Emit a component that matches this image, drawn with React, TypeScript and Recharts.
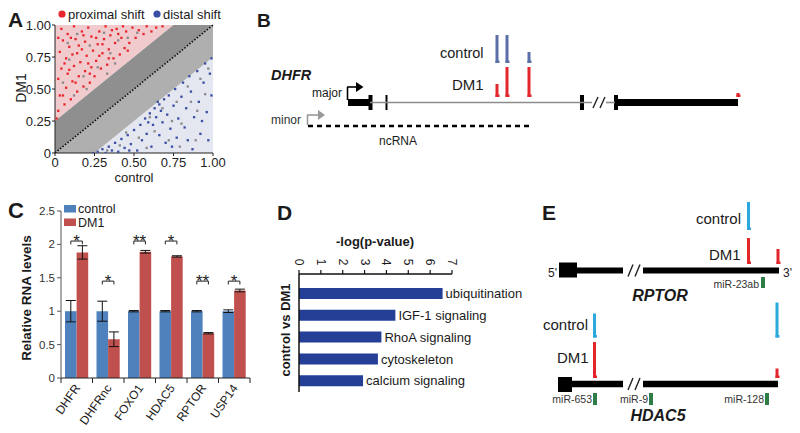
import React from 'react';
import {
  ComposedChart, Area, Scatter, Bar, XAxis, YAxis, ReferenceLine, ReferenceArea,
  ErrorBar, LabelList, Customized,
} from 'recharts';

const FONT = "'Liberation Sans', Arial, Helvetica, sans-serif";

/* ---------------- Panel A data ---------------- */
const zoneX = [0, 0.25, 0.75, 1];
const zoneDiag = [0, 0.25, 0.75, 1];
const zoneUpper = [0.25, 0.5, 1, 1];
const zoneLower = [0, 0, 0.5, 0.75];
const aTicks = [0, 0.25, 0.5, 0.75, 1];
const proximalShift: number[][] = [
  [0.01,0.27],[0.02,0.33],[0.03,0.45],[0.02,0.58],[0.04,0.66],[0.03,0.79],[0.05,0.88],[0.04,0.97],[0.06,0.38],[0.07,0.51],
  [0.08,0.62],[0.07,0.74],[0.09,0.83],[0.08,0.93],[0.1,0.42],[0.11,0.56],[0.12,0.68],[0.11,0.77],[0.13,0.89],[0.12,0.99],
  [0.14,0.48],[0.15,0.6],[0.16,0.71],[0.15,0.84],[0.17,0.95],[0.18,0.52],[0.19,0.64],[0.2,0.76],[0.19,0.87],[0.21,0.98],
  [0.22,0.55],[0.23,0.67],[0.24,0.8],[0.23,0.91],[0.25,0.6],[0.26,0.72],[0.27,0.85],[0.28,0.95],[0.29,0.66],[0.3,0.78],
  [0.31,0.89],[0.32,0.99],[0.33,0.69],[0.34,0.81],[0.35,0.92],[0.37,0.74],[0.38,0.86],[0.39,0.97],[0.41,0.77],[0.42,0.9],
  [0.44,0.82],[0.45,0.95],[0.47,0.86],[0.49,0.98],[0.51,0.9],[0.53,0.96],[0.56,0.93],[0.58,0.99],[0.61,0.95],[0.64,0.98],
  [0.68,0.99],[0.06,0.7],[0.13,0.55],[0.17,0.81],[0.21,0.7],[0.26,0.9],[0.36,0.96],[0.43,0.99],[0.1,0.9],[0.28,0.76],
  [0.02,0.9],[0.05,0.45],[0.09,0.65],[0.14,0.78],[0.18,0.92],[0.22,0.62],[0.3,0.85],[0.34,0.74],[0.4,0.93],[0.46,0.8],
];
const distalShift: number[][] = [
  [0.24,0.0],[0.27,0.01],[0.3,0.03],[0.32,0.0],[0.34,0.05],[0.36,0.02],[0.38,0.08],[0.4,0.01],[0.42,0.11],[0.44,0.04],
  [0.46,0.14],[0.48,0.07],[0.5,0.18],[0.52,0.02],[0.54,0.22],[0.55,0.1],[0.57,0.27],[0.58,0.15],[0.6,0.31],[0.61,0.05],
  [0.62,0.22],[0.63,0.35],[0.64,0.28],[0.65,0.4],[0.66,0.14],[0.67,0.33],[0.68,0.24],[0.69,0.42],[0.7,0.08],[0.71,0.3],
  [0.72,0.45],[0.73,0.19],[0.75,0.37],[0.76,0.5],[0.77,0.12],[0.78,0.27],[0.8,0.44],[0.81,0.55],[0.82,0.2],[0.83,0.35],
  [0.85,0.6],[0.86,0.48],[0.87,0.03],[0.88,0.28],[0.9,0.64],[0.91,0.4],[0.92,0.15],[0.94,0.55],[0.95,0.7],[0.96,0.32],
  [0.97,0.1],[0.98,0.62],[0.99,0.74],[0.99,0.45],[0.93,0.25],[0.84,0.1],[0.74,0.05],[0.59,0.24],[0.66,0.38],[0.47,0.02],
];
const unshifted: number[][] = [
  [0.05,0.55],[0.09,0.73],[0.14,0.93],[0.18,0.6],[0.22,0.84],[0.27,0.67],[0.31,0.94],[0.35,0.78],[0.4,0.88],[0.46,0.9],
  [0.52,0.94],[0.12,0.45],[0.2,0.5],[0.08,0.86],[0.33,0.62],[0.38,0.7],
  [0.33,0.02],[0.41,0.06],[0.45,0.16],[0.53,0.12],[0.58,0.04],[0.63,0.17],[0.68,0.35],[0.72,0.1],[0.77,0.4],[0.8,0.23],
  [0.84,0.52],[0.89,0.1],[0.9,0.33],[0.95,0.46],[0.97,0.66],[0.79,0.05],[0.6,0.28],[0.86,0.4],[0.74,0.25],[0.92,0.58],
];

/* ---------------- Panel C data ---------------- */
const genes = ['DHFR', 'DHFRnc', 'FOXO1', 'HDAC5', 'RPTOR', 'USP14'];
const ctrlLevels = [1, 1, 1, 1, 1, 1];
const ctrlErr = [0.16, 0.15, 0.01, 0.01, 0.01, 0.02];
const dm1Levels = [1.88, 0.58, 1.89, 1.82, 0.67, 1.31];
const dm1Err = [0.1, 0.11, 0.02, 0.01, 0.01, 0.02];
const sigLevel = [2.05, 1.45, 2.05, 2.05, 1.45, 1.45];
const sigMark = ['*', '*', '**', '*', '**', '*'];
const cTicks = [0, 0.5, 1, 1.5, 2, 2.5];

/* ---------------- Panel D data ---------------- */
const pathways = ['ubiquitination', 'IGF-1 signaling', 'RhoA signaling', 'cytoskeleton', 'calcium signaling'];
const negLogP = [6.57, 4.41, 3.77, 3.61, 2.93];
const dTicks = [0, 1, 2, 3, 4, 5, 6, 7];

/* ---------------- Panel B data (schematic coordinates) ---------------- */
const dhfrIntrons = [[370, 592], [606, 615]];
const dhfrThick = [[348, 370], [615, 738]];
const dhfrExons = [[368.5, 372.5], [385.5, 387.5], [580, 584], [614, 618]];
const dhfrBreak = 599;
const dhfrCtrlPos = [497, 507, 529];
const dhfrCtrlSig = [28, 28, 11];
const dhfrDm1Pos = [497, 507, 529, 738];
const dhfrDm1Sig = [13, 30, 30, 4];
const ncRNASpan = [308, 533];

/* ---------------- Panel E data (schematic coordinates) ---------------- */
const rptorHead = [559, 577];
const rptorBody = [[577, 623], [643, 779]];
const rptorCtrlPos = [748.5];
const rptorCtrlSig = [28];
const rptorDm1Pos = [748.5, 778];
const rptorDm1Sig = [26, 15];
const rptorMiR = [763];
const rptorMiRName = ['miR-23ab'];
const hdacHead = [558, 572];
const hdacBody = [[572, 623], [643, 778]];
const hdacCtrlPos = [594.5, 777];
const hdacCtrlSig = [24, 35];
const hdacDm1Pos = [594.5, 777];
const hdacDm1Sig = [36, 9.5];
const hdacMiR = [595, 651, 767];
const hdacMiRName = ['miR-653', 'miR-9', 'miR-128'];
const geneBreak = 634;

/* ---------------- helpers ---------------- */
type TO = { size?: number; bold?: boolean; italic?: boolean; anchor?: 'start' | 'middle' | 'end'; rot?: number; fill?: string };
const mkT = (ox: number, oy: number) => (x: number, y: number, s: string, o: TO = {}) => {
  const X = x - ox;
  const Y = y - oy;
  return (
    <text
      key={`${s}_${x}_${y}`}
      x={X}
      y={Y}
      fontFamily={FONT}
      fontSize={o.size ?? 12}
      fontWeight={o.bold ? 'bold' : 'normal'}
      fontStyle={o.italic ? 'italic' : 'normal'}
      textAnchor={o.anchor ?? 'start'}
      fill={o.fill ?? '#1a1a1a'}
      transform={o.rot ? `rotate(${o.rot},${X},${Y})` : undefined}
    >
      {s}
    </text>
  );
};

const rect = (k: string, x1: number, x2: number, y1: number, y2: number, fill: string) => (
  <ReferenceArea key={k} x1={x1} x2={x2} y1={y1} y2={y2} fill={fill} fillOpacity={1} stroke="none" ifOverflow="visible" />
);
const seg = (k: string, x1: number, y1: number, x2: number, y2: number, stroke: string, w: number, dash?: string) => (
  <ReferenceLine key={k} segment={[{ x: x1, y: y1 }, { x: x2, y: y2 }]} stroke={stroke} strokeWidth={w} strokeDasharray={dash} ifOverflow="visible" />
);
const tri = (k: string, x1: number, x2: number, y1: number, y2: number, fill: string) => (
  <ReferenceArea
    key={k} x1={x1} x2={x2} y1={y1} y2={y2} ifOverflow="visible"
    shape={(p: any) => (
      <polygon points={`${p.x},${p.y} ${p.x + p.width},${p.y + p.height / 2} ${p.x},${p.y + p.height}`} fill={fill} />
    )}
  />
);
const peaks = (k: string, pos: number[], sig: number[], base: number, color: string) =>
  pos.flatMap((p, i) => [
    rect(`${k}a${i}`, p - 1.5, p + 1.5, base - sig[i], base, color),
    rect(`${k}b${i}`, p - 1.5, p + 2.5, base - 2.5, base, color),
  ]);
const breakMark = (k: string, bx: number, y: number, h: number) => [
  seg(`${k}1`, bx - 6, y + h, bx - 1, y - h, '#222', 1.4),
  seg(`${k}2`, bx + 1, y + h, bx + 6, y - h, '#222', 1.4),
];

const fmtA = (v: number) => (v === 0 ? '0' : v.toFixed(2));

/* ---------------- Panel A ---------------- */
function PanelA() {
  const rows = zoneX.map((x, i) => ({ x, diag: zoneDiag[i], up: zoneUpper[i], lo: zoneLower[i] }));
  const T = mkT(0, 0);
  const dot = (props: any, fill: string) => <rect x={props.cx - 1.1} y={props.cy - 1.1} width={2.3} height={2.3} fill={fill} />;
  const ann = () => (
    <g>
      <circle cx={62} cy={14} r={3.6} fill="#e8262e" />
      {T(68, 18.5, 'proximal shift', { size: 13 })}
      <circle cx={157} cy={14} r={3.6} fill="#3a4ea3" />
      {T(163, 18.5, 'distal shift', { size: 13 })}
      {T(8, 27, 'A', { size: 21, bold: true })}
      {T(26, 88, 'DM1', { size: 14, anchor: 'middle', rot: -90 })}
      {T(134, 182, 'control', { size: 13, anchor: 'middle' })}
    </g>
  );
  return (
    <div style={{ position: 'absolute', left: 0, top: 0 }}>
      <ComposedChart width={240} height={185} data={rows} margin={{ top: 25, right: 27, bottom: 7, left: 15 }}>
        <XAxis dataKey="x" type="number" domain={[0, 1]} ticks={aTicks} interval={0} allowDataOverflow
          tickFormatter={fmtA} tick={{ fontSize: 13, fill: '#222', fontFamily: FONT }} tickSize={3} height={25}
          axisLine={{ stroke: '#222' }} tickLine={{ stroke: '#222' }} />
        <YAxis dataKey="y" type="number" domain={[0, 1]} ticks={aTicks} interval={0} allowDataOverflow
          tickFormatter={fmtA} tick={{ fontSize: 13, fill: '#222', fontFamily: FONT }} tickSize={3} tickMargin={1} width={40}
          axisLine={{ stroke: '#222' }} tickLine={{ stroke: '#222' }} />
        <Area dataKey={(d: any) => [d.up, 1]} type="linear" stroke="none" fill="#f0cacc" fillOpacity={1} isAnimationActive={false} />
        <Area dataKey={(d: any) => [0, d.lo]} type="linear" stroke="none" fill="#e4e6f0" fillOpacity={1} isAnimationActive={false} />
        <Area dataKey={(d: any) => [d.diag, d.up]} type="linear" stroke="none" fill="#8f8f8f" fillOpacity={1} isAnimationActive={false} />
        <Area dataKey={(d: any) => [d.lo, d.diag]} type="linear" stroke="none" fill="#afafaf" fillOpacity={1} isAnimationActive={false} />
        <Scatter data={unshifted.map(([x, y]) => ({ x, y }))} isAnimationActive={false} shape={(p: any) => dot(p, '#8a8a8a')} />
        <Scatter data={proximalShift.map(([x, y]) => ({ x, y }))} isAnimationActive={false} shape={(p: any) => dot(p, '#e8262e')} />
        <Scatter data={distalShift.map(([x, y]) => ({ x, y }))} isAnimationActive={false} shape={(p: any) => dot(p, '#3a4ea3')} />
        <ReferenceLine segment={[{ x: 0, y: 0 }, { x: 1, y: 1 }]} stroke="#111" strokeWidth={1.6} strokeDasharray="1.6 1.6" />
        <Customized component={ann} />
      </ComposedChart>
    </div>
  );
}

/* ---------------- Panel B ---------------- */
function PanelB() {
  const T = mkT(230, 0);
  const gy = 102.5;
  const ann = () => (
    <g>
      {T(257, 27, 'B', { size: 19, bold: true })}
      {T(271, 80, 'DHFR', { size: 14.5, bold: true, italic: true })}
      {T(440, 58, 'control', { size: 14.5 })}
      {T(452, 90, 'DM1', { size: 15 })}
      {T(312, 96.5, 'major', { size: 12 })}
      {T(271, 124, 'minor', { size: 12, fill: '#333' })}
      {T(379, 145, 'ncRNA', { size: 12 })}
    </g>
  );
  return (
    <div style={{ position: 'absolute', left: 230, top: 0 }}>
      <ComposedChart width={570} height={185} data={[{ x: 230 }, { x: 800 }]} margin={{ top: 0, right: 0, bottom: 0, left: 0 }}>
        <XAxis dataKey="x" type="number" domain={[230, 800]} hide allowDataOverflow />
        <YAxis type="number" domain={[0, 185]} reversed hide allowDataOverflow />
        {dhfrIntrons.map(([a, b], i) => seg(`in${i}`, a, gy, b, gy, '#8c8c8c', 1.6))}
        {dhfrThick.map(([a, b], i) => rect(`th${i}`, a, b, gy - 3.5, gy + 3.5, '#000'))}
        {dhfrExons.map(([a, b], i) => rect(`ex${i}`, a, b, gy - 7.5, gy + 7.5, '#000'))}
        {breakMark('br', dhfrBreak, gy, 5.5)}
        {seg('maj1', 347.5, 100, 347.5, 87, '#000', 1.6)}
        {seg('maj2', 347, 87, 357, 87, '#000', 1.6)}
        {tri('majh', 356, 363.5, 82, 92, '#000')}
        {seg('min1', 307.5, 125, 307.5, 115, '#999', 1.6)}
        {seg('min2', 307, 115, 319, 115, '#999', 1.6)}
        {tri('minh', 318, 325, 110, 120, '#999')}
        {seg('nc', ncRNASpan[0], 126, ncRNASpan[1], 126, '#000', 2.6, '5 4')}
        {peaks('bc', dhfrCtrlPos, dhfrCtrlSig, 63, '#5b6ea8')}
        {peaks('bd', dhfrDm1Pos, dhfrDm1Sig, 97, '#e3262c')}
        <Customized component={ann} />
      </ComposedChart>
    </div>
  );
}

/* ---------------- Panel C ---------------- */
const C_BAND = (250 - 61) / genes.length;
const C_BAR = 11.6;
function CTick(props: any) {
  const { x, y, payload, index } = props;
  const half = C_BAND / 2;
  const px = x + 4;
  const py = y + 10;
  return (
    <g>
      <line x1={x - half} y1={y} x2={x - half} y2={y + 5} stroke="#222" />
      {index === genes.length - 1 && <line x1={x + half} y1={y} x2={x + half} y2={y + 5} stroke="#222" />}
      <text x={px} y={py} transform={`rotate(-55,${px},${py})`} textAnchor="end" fontSize={12} fill="#1a1a1a" fontFamily={FONT}>
        {payload.value}
      </text>
    </g>
  );
}
// significance bracket drawn from the DM1 bar geometry (bar pixel height / value gives the y scale)
function SigMark(p: any) {
  const vb = p.viewBox || p;
  const x = Number(vb.x);
  const y = Number(vb.y);
  const w = Number(vb.width);
  const hgt = Number(vb.height);
  let idx = typeof p.index === 'number' ? p.index : dm1Levels.indexOf(Number(p.value));
  if (idx < 0 || !w || !hgt) return null;
  const v = dm1Levels[idx];
  const base = y + hgt;
  const ly = base - (sigLevel[idx] * hgt) / v;
  const x1 = x - w / 2;
  const x2 = x + w / 2;
  return (
    <g>
      <path d={`M${x1},${ly + 3.3}V${ly}H${x2}V${ly + 3.3}`} stroke="#222" strokeWidth={1} fill="none" />
      <text x={(x1 + x2) / 2} y={ly + 6} textAnchor="middle" fontSize={17} fill="#222" fontFamily={FONT}>
        {sigMark[idx]}
      </text>
    </g>
  );
}
function PanelC() {
  const rows = genes.map((name, i) => ({ name, ctrl: ctrlLevels[i], dm1: dm1Levels[i], errC: ctrlErr[i], errD: dm1Err[i] }));
  const T = mkT(0, 185);
  const ann = () => (
    <g>
      {T(8, 218, 'C', { size: 22, bold: true })}
      {T(31, 298, 'Relative RNA levels', { size: 13.5, bold: true, anchor: 'middle', rot: -90 })}
      <rect x={64} y={205 - 185} width={12} height={7.5} fill="#4f81bd" />
      {T(78, 213, 'control', { size: 12.5 })}
      <rect x={64} y={218.5 - 185} width={12} height={7.5} fill="#c0504d" />
      {T(78, 227, 'DM1', { size: 12.5 })}
    </g>
  );
  return (
    <div style={{ position: 'absolute', left: 0, top: 185 }}>
      <ComposedChart width={262} height={248} data={rows} margin={{ top: 26, right: 12, bottom: 5, left: 31 }} barGap={0}>
        <XAxis dataKey="name" type="category" interval={0} tick={<CTick />} tickLine={false} tickSize={0} tickMargin={0}
          height={50} axisLine={{ stroke: '#222' }} />
        <YAxis type="number" domain={[0, 2.5]} ticks={cTicks} interval={0} width={30} tickSize={4} tickMargin={2}
          allowDataOverflow tick={{ fontSize: 11.5, fill: '#333', fontFamily: FONT }}
          axisLine={{ stroke: '#555' }} tickLine={{ stroke: '#555' }} tickFormatter={(v: number) => String(v)} />
        <Bar dataKey="ctrl" fill="#4f81bd" barSize={C_BAR} isAnimationActive={false}>
          <ErrorBar dataKey="errC" width={5} stroke="#111" strokeWidth={1} direction="y" />
        </Bar>
        <Bar dataKey="dm1" fill="#c0504d" barSize={C_BAR} isAnimationActive={false}>
          <ErrorBar dataKey="errD" width={5} stroke="#111" strokeWidth={1} direction="y" />
          <LabelList dataKey="dm1" content={SigMark} />
        </Bar>
        <Customized component={ann} />
      </ComposedChart>
    </div>
  );
}

/* ---------------- Panel D ---------------- */
function DTick(props: any) {
  const { x, y, payload } = props;
  const cy = y - 8;
  return (
    <text x={x} y={cy} transform={`rotate(90,${x},${cy})`} textAnchor="middle" dominantBaseline="central" fontSize={12}
      fill="#1a1a1a" fontFamily={FONT}>
      {payload.value}
    </text>
  );
}
function PanelD() {
  const rows = pathways.map((name, i) => ({ name, val: negLogP[i] }));
  const T = mkT(262, 185);
  const ann = () => (
    <g>
      {T(277, 220, 'D', { size: 21, bold: true })}
      {T(375, 246, '-log(p-value)', { size: 13, bold: true, anchor: 'middle' })}
      {T(290, 330, 'control vs DM1', { size: 13, bold: true, anchor: 'middle', rot: -90 })}
    </g>
  );
  return (
    <div style={{ position: 'absolute', left: 262, top: 185 }}>
      <ComposedChart layout="vertical" width={268} height={248} data={rows} margin={{ top: 59, right: 78, bottom: 41, left: 27 }}>
        <XAxis type="number" orientation="top" domain={[0, 7]} ticks={dTicks} interval={0} height={30} tickSize={4} tickMargin={0}
          allowDataOverflow tick={<DTick />} axisLine={{ stroke: '#111', strokeWidth: 1.5 }} tickLine={{ stroke: '#111', strokeWidth: 1.2 }} />
        <YAxis type="category" dataKey="name" width={10} tick={false} tickLine={false}
          axisLine={{ stroke: '#111', strokeWidth: 1.5 }} padding={{ top: 9, bottom: 0 }} />
        <Bar dataKey="val" fill="#253f97" barSize={11} isAnimationActive={false}>
          <LabelList dataKey="name" position="right" offset={3} fontSize={13} fill="#1a1a1a" fontFamily={FONT} />
        </Bar>
        <Customized component={ann} />
      </ComposedChart>
    </div>
  );
}

/* ---------------- Panel E ---------------- */
function PanelE() {
  const T = mkT(530, 185);
  const ry = 270.5;
  const hy = 384;
  const ann = () => (
    <g>
      {T(542, 220, 'E', { size: 21, bold: true })}
      {T(548, 277, "5'", { size: 12 })}
      {T(783, 277, "3'", { size: 12 })}
      {T(696, 224, 'control', { size: 15 })}
      {T(709, 260, 'DM1', { size: 15 })}
      {T(660, 301, 'RPTOR', { size: 16, bold: true, italic: true, anchor: 'middle' })}
      {T(543, 330, 'control', { size: 15 })}
      {T(557, 363, 'DM1', { size: 15 })}
      {T(658, 421, 'HDAC5', { size: 16, bold: true, italic: true, anchor: 'middle' })}
      {rptorMiR.map((p, i) => T(p - 4, 288, rptorMiRName[i], { size: 10.5, anchor: 'end', fill: '#333' }))}
      {hdacMiR.map((p, i) => T(p - 3, 403, hdacMiRName[i], { size: 10.5, anchor: 'end', fill: '#333' }))}
    </g>
  );
  return (
    <div style={{ position: 'absolute', left: 530, top: 185 }}>
      <ComposedChart width={270} height={248} data={[{ x: 530 }, { x: 800 }]} margin={{ top: 0, right: 0, bottom: 0, left: 0 }}>
        <XAxis dataKey="x" type="number" domain={[530, 800]} hide allowDataOverflow />
        <YAxis type="number" domain={[185, 433]} reversed hide allowDataOverflow />
        {rect('rh', rptorHead[0], rptorHead[1], ry - 8, ry + 7, '#000')}
        {rptorBody.map(([a, b], i) => rect(`rb${i}`, a, b, ry - 3, ry + 3, '#000'))}
        {breakMark('rbk', geneBreak, ry, 6)}
        {peaks('rc', rptorCtrlPos, rptorCtrlSig, 230, '#2ba8dc')}
        {peaks('rd', rptorDm1Pos, rptorDm1Sig, 264, '#e3262c')}
        {rptorMiR.map((p, i) => rect(`rm${i}`, p - 2, p + 2, 277, 288, '#2e7d46'))}
        {rect('hh', hdacHead[0], hdacHead[1], hy - 7, hy + 8, '#000')}
        {hdacBody.map(([a, b], i) => rect(`hb${i}`, a, b, hy - 3.2, hy + 3.2, '#000'))}
        {breakMark('hbk', geneBreak, hy, 6)}
        {peaks('hc', hdacCtrlPos, hdacCtrlSig, 337.5, '#2ba8dc')}
        {peaks('hd', hdacDm1Pos, hdacDm1Sig, 378, '#e3262c')}
        {hdacMiR.map((p, i) => rect(`hm${i}`, p - 2, p + 2, 393, 405, '#2e7d46'))}
        <Customized component={ann} />
      </ComposedChart>
    </div>
  );
}

export default function App() {
  return (
    <div style={{ position: 'absolute', left: 0, top: 0, width: 800, height: 433, background: '#fff', overflow: 'hidden', fontFamily: FONT }}>
      <PanelA />
      <PanelB />
      <PanelC />
      <PanelD />
      <PanelE />
    </div>
  );
}
